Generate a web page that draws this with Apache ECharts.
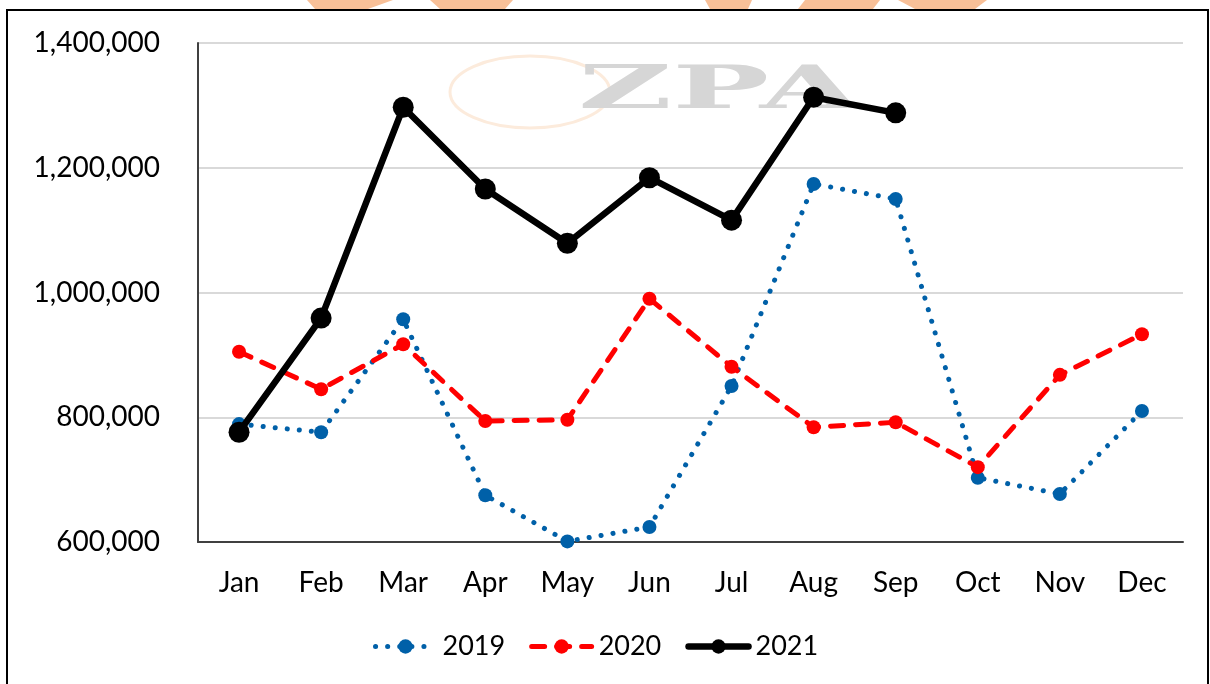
<!DOCTYPE html>
<html>
<head>
<meta charset="utf-8">
<script src="https://cdn.jsdelivr.net/npm/echarts@6/dist/echarts.min.js"></script>
<style>
  html, body { margin: 0; padding: 0; background: #fff; }
  #chart { width: 1210px; height: 684px; }
</style>
</head>
<body>
<div id="chart"></div>
<script>
  var months = ['Jan', 'Feb', 'Mar', 'Apr', 'May', 'Jun', 'Jul', 'Aug', 'Sep', 'Oct', 'Nov', 'Dec'];
  var yTicks = [600000, 800000, 1000000, 1200000, 1400000];
  var data2019 = [789000, 776000, 957000, 675000, 601000, 624000, 850000, 1174000, 1150000, 703000, 677000, 810000];
  var data2020 = [905000, 845000, 917000, 794000, 796000, 990000, 881000, 784000, 792000, 720000, 868000, 933000];
  var data2021 = [776000, 959000, 1297000, 1166000, 1079000, 1184000, 1116000, 1313000, 1288000];

  var font = 'Lato, "Open Sans", sans-serif';
  var chart = echarts.init(document.getElementById('chart'));

  var blueLine = { color: '#0060a8', width: 5, type: [0.1, 12], cap: 'round' };
  var redLine = { color: '#ff0000', width: 5, type: [13, 12], cap: 'round' };
  var blackLine = { color: '#000', width: 6.5, cap: 'round', join: 'round' };

  // orange bits of the logo that peek in above the frame
  var topShapes = [
    [[307, 0], [393, 0], [368, 9], [315, 9]],
    [[430, 0], [513, 0], [505, 9], [440, 9]],
    [[705, 0], [752, 0], [748, 9], [710, 9]],
    [[805, 0], [880, 0], [873, 9], [798, 9]],
    [[898, 0], [987, 0], [975, 9], [915, 9]]
  ];
  var graphics = topShapes.map(function (pts) {
    return { type: 'polygon', shape: { points: pts }, style: { fill: '#f8c098' }, z: 1 };
  });
  graphics.push({
    type: 'rect', shape: { x: 7, y: 10, width: 1201, height: 690 },
    style: { fill: 'none', stroke: '#000', lineWidth: 2 }, z: 1
  });
  graphics.push({
    type: 'ellipse', shape: { cx: 530, cy: 92, rx: 80, ry: 36 },
    style: { fill: 'none', stroke: '#fcebdc', lineWidth: 3 }, z: 0
  });
  graphics.push({
    type: 'text', x: 578, y: 62, scaleX: 2.15, z: 0,
    style: { text: 'ZPA', font: 'bold 60px "DejaVu Serif", serif', fill: '#d6d6d6' }
  });

  var option = {
    animation: false,
    backgroundColor: '#fff',
    graphic: graphics,
    grid: { left: 198, right: 27, top: 43, bottom: 142 },
    legend: {
      left: 368,
      top: 628,
      itemWidth: 60,
      itemHeight: 18,
      itemGap: 24,
      textStyle: { fontFamily: font, fontSize: 27, color: '#000', padding: [0, 0, 0, 2] },
      data: [
        { name: '2019', lineStyle: blueLine },
        { name: '2020', lineStyle: redLine },
        { name: '2021', lineStyle: blackLine }
      ]
    },
    xAxis: {
      type: 'category',
      data: months,
      boundaryGap: true,
      axisLine: { lineStyle: { color: '#404040', width: 2 } },
      axisTick: { show: false },
      axisLabel: { fontFamily: font, fontSize: 28, color: '#000', margin: 27 }
    },
    yAxis: {
      type: 'value',
      min: yTicks[0],
      max: yTicks[yTicks.length - 1],
      interval: 200000,
      axisLine: { show: true, lineStyle: { color: '#404040', width: 2 } },
      axisTick: { show: false },
      splitLine: { lineStyle: { color: '#d9d9d9', width: 2 } },
      axisLabel: {
        fontFamily: font, fontSize: 28, color: '#000', margin: 38,
        formatter: function (v) { return v.toLocaleString('en-US'); }
      }
    },
    series: [
      {
        name: '2019', type: 'line', data: data2019, z: 3,
        symbol: 'circle', symbolSize: 14,
        itemStyle: { color: '#0060a8' },
        lineStyle: blueLine
      },
      {
        name: '2020', type: 'line', data: data2020, z: 4,
        symbol: 'circle', symbolSize: 14,
        itemStyle: { color: '#ff0000' },
        lineStyle: redLine
      },
      {
        name: '2021', type: 'line', data: data2021, z: 5,
        symbol: 'circle', symbolSize: 21,
        itemStyle: { color: '#000' },
        lineStyle: blackLine
      }
    ]
  };
  chart.setOption(option);
</script>
</body>
</html>
